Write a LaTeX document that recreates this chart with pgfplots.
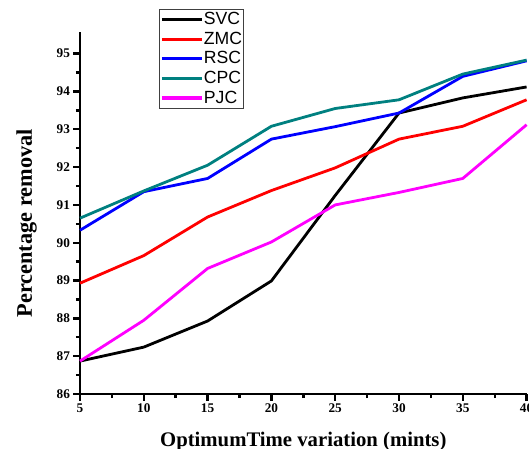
\documentclass[border=0pt]{standalone}
\usepackage{fontspec}
\setmainfont{Liberation Serif}
\setsansfont{Liberation Sans}
\usepackage{pgfplots}
\pgfplotsset{compat=1.18}
\definecolor{cpcteal}{RGB}{0,128,128}
\definecolor{pjcmag}{RGB}{255,0,255}
\definecolor{zmcred}{RGB}{255,0,0}
\definecolor{rscblue}{RGB}{0,0,255}
\begin{document}
\begin{tikzpicture}
\begin{axis}[
  at={(0,0)}, anchor=south west,
  scale only axis,
  width=446.6bp, height=361.5bp,
  xmin=5, xmax=40, ymin=86, ymax=95.56,
  axis x line=bottom, axis y line=left,
  axis line style={-, line width=2.6bp},
  xtick={5,10,...,40}, ytick={86,87,...,95},
  minor x tick num=1, minor y tick num=1,
  tick align=outside,
  major tick length=6.5bp, minor tick length=4bp,
  every tick/.style={black, line width=2.4bp},
  /pgf/number format/assume math mode=true,
  tick label style={font=\fontsize{13.3}{15}\selectfont\bfseries},
  xlabel={OptimumTime variation (mints)},
  ylabel={Percentage removal},
  every axis x label/.style={at={(axis description cs:0.5,-0.1456)}, anchor=base, font=\fontsize{20.8}{24}\selectfont\bfseries},
  every axis y label/.style={at={(axis description cs:-0.1075,0.472)}, rotate=90, anchor=base, font=\fontsize{22.4}{26}\selectfont\bfseries},
  legend style={at={(axis description cs:0.177,1.066)}, anchor=north west,
    draw=black!75, line width=0.8bp, inner sep=0.8bp,
    font=\fontsize{17.7}{20}\selectfont\sffamily,
    nodes={inner sep=0.4bp, text height=14.5bp, text depth=4.3bp},
    row sep=0pt, column sep=0pt},
  legend cell align=left,
  legend image code/.code={\draw[#1, line width=3.3bp] (0bp,0bp) -- (40bp,0bp);},
  clip=false,
]
\addplot[black, line width=2.8bp] coordinates {(5,86.87)(10,87.24)(15,87.93)(20,88.99)(25,91.25)(30,93.43)(35,93.83)(40,94.12)};
\addlegendentry{SVC}
\addplot[zmcred, line width=2.8bp] coordinates {(5,88.93)(10,89.66)(15,90.68)(20,91.38)(25,91.98)(30,92.74)(35,93.08)(40,93.78)};
\addlegendentry{ZMC}
\addplot[rscblue, line width=2.8bp] coordinates {(5,90.33)(10,91.35)(15,91.70)(20,92.74)(25,93.07)(30,93.43)(35,94.40)(40,94.81)};
\addlegendentry{RSC}
\addplot[cpcteal, line width=2.8bp] coordinates {(5,90.65)(10,91.37)(15,92.05)(20,93.08)(25,93.55)(30,93.78)(35,94.46)(40,94.83)};
\addlegendentry{CPC}
\addplot[pjcmag, line width=2.8bp] coordinates {(5,86.87)(10,87.95)(15,89.32)(20,90.02)(25,91.00)(30,91.33)(35,91.70)(40,93.12)};
\addlegendentry{PJC}
\end{axis}
\pgfresetboundingbox
\useasboundingbox (-80bp,-55bp) rectangle (449bp,394bp);
\end{tikzpicture}
\end{document}
